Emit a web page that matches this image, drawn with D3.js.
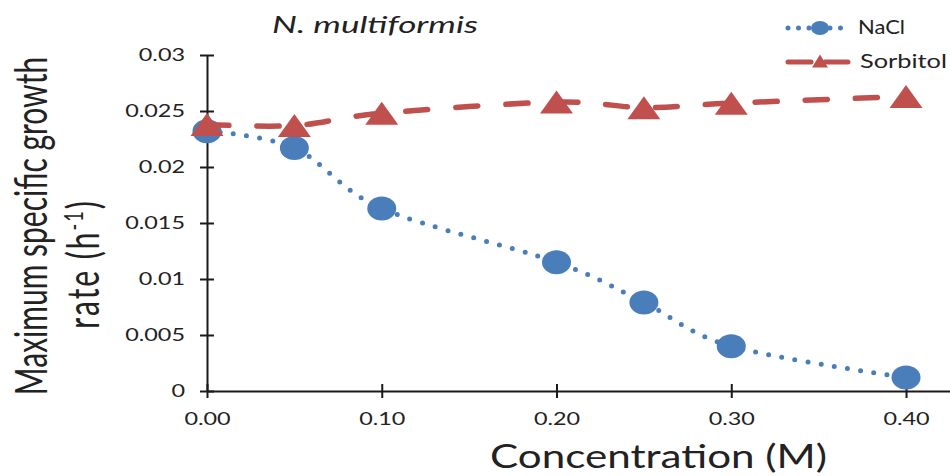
<!DOCTYPE html>
<html>
<head>
<meta charset="utf-8">
<script src="https://cdn.jsdelivr.net/npm/d3@7"></script>
<style>
  html, body { margin: 0; padding: 0; background: #fff; }
  svg { display: block; font-family: Lato, "Open Sans", sans-serif; }
</style>
</head>
<body>
<svg id="chart" width="950" height="476"></svg>
<script>
// ---- data ----
const concentrations = [0.00, 0.05, 0.10, 0.20, 0.25, 0.30, 0.40];
const naclRate       = [0.0232, 0.0217, 0.0163, 0.0115, 0.0079, 0.0040, 0.0012];
const sorbitolRate   = [0.0238, 0.0237, 0.0248, 0.0258, 0.0253, 0.0257, 0.0263];
const seriesNames    = ["NaCl", "Sorbitol"];
const xTicks         = [0.00, 0.10, 0.20, 0.30, 0.40];
const xTickLabels    = ["0.00", "0.10", "0.20", "0.30", "0.40"];
const yTicks         = [0, 0.005, 0.01, 0.015, 0.02, 0.025, 0.03];
const yTickLabels    = ["0", "0.005", "0.01", "0.015", "0.02", "0.025", "0.03"];
const chartTitle     = "N. multiformis";
const xTitle         = "Concentration (M)";
const yTitleLine1    = "Maximum specific growth";

// ---- layout ----
const svg = d3.select("#chart");
const blue = "#4a7ebb", red = "#c0504d", axisColor = "#1a1a1a", textColor = "#222";
const sx = 1.3;   // horizontal stretch of the original picture
const syT = 1.45; // glyph-height stretch of the rotated y title

const x = d3.scaleLinear().domain([0, 0.45]).range([207, 993.4]);
const y = d3.scaleLinear().domain([0, 0.03]).range([391, 55]);

// x axis
const gx = svg.append("g").attr("transform", `translate(0,${y(0)})`)
  .call(d3.axisBottom(x).tickValues(xTicks).tickFormat((d, i) => xTickLabels[i]).tickSizeOuter(0).tickSizeInner(7));
gx.select(".domain").attr("stroke", axisColor).attr("stroke-width", 2);
gx.selectAll(".tick line").attr("y1", -7).attr("y2", 7).attr("stroke", axisColor).attr("stroke-width", 2);
gx.selectAll(".tick text").attr("y", 21).attr("transform", `scale(${sx},1)`)
  .attr("fill", textColor).style("font-size", "18px").style("font-family", "Lato, sans-serif");

// y axis
const gy = svg.append("g").attr("transform", `translate(${x(0)},0)`)
  .call(d3.axisLeft(y).tickValues(yTicks).tickFormat((d, i) => yTickLabels[i]).tickSizeOuter(0).tickSizeInner(7));
gy.select(".domain").attr("stroke", axisColor).attr("stroke-width", 2);
gy.selectAll(".tick line").attr("x1", -7).attr("x2", 7).attr("stroke", axisColor).attr("stroke-width", 2);
gy.selectAll(".tick text").attr("x", -22 / sx).attr("transform", `scale(${sx},1)`)
  .attr("fill", textColor).style("font-size", "18px").style("font-family", "Lato, sans-serif");

// series
const curve = d3.curveCatmullRom.alpha(0);
const naclPts = concentrations.map((c, i) => [c, naclRate[i]]);
const sorbPts = concentrations.map((c, i) => [c, sorbitolRate[i]]);
const line = d3.line().x(d => x(d[0])).y(d => y(d[1])).curve(curve);

const triPath = (w, h) => `M0,${-h/2}L${w/2},${h/2}L${-w/2},${h/2}Z`;

svg.append("path").attr("d", line(naclPts)).attr("fill", "none")
  .attr("stroke", blue).attr("stroke-width", 5).attr("stroke-linecap", "round")
  .attr("stroke-dasharray", "0 13.3");
svg.append("g").selectAll("ellipse").data(naclPts).join("ellipse")
  .attr("cx", d => x(d[0])).attr("cy", d => y(d[1])).attr("rx", 14.5).attr("ry", 12).attr("fill", blue);

svg.append("path").attr("d", line(sorbPts)).attr("fill", "none")
  .attr("stroke", red).attr("stroke-width", 5.5).attr("stroke-linecap", "round")
  .attr("stroke-dasharray", "22 28");
svg.append("g").selectAll("path").data(sorbPts).join("path")
  .attr("transform", d => `translate(${x(d[0])},${y(d[1])})`)
  .attr("d", triPath(33, 23)).attr("fill", red);

// legend
const lg = svg.append("g");
lg.append("line").attr("x1", 788).attr("x2", 850).attr("y1", 28).attr("y2", 28)
  .attr("stroke", blue).attr("stroke-width", 5).attr("stroke-linecap", "round").attr("stroke-dasharray", "0 10.5");
lg.append("ellipse").attr("cx", 820).attr("cy", 28).attr("rx", 9).attr("ry", 7).attr("fill", blue);
lg.append("text").attr("x", 858).attr("y", 34).text(seriesNames[0])
  .attr("textLength", 47).attr("lengthAdjust", "spacingAndGlyphs")
  .attr("fill", textColor).style("font-size", "19px");
lg.append("line").attr("x1", 788).attr("x2", 853).attr("y1", 62).attr("y2", 62)
  .attr("stroke", red).attr("stroke-width", 5).attr("stroke-linecap", "round").attr("stroke-dasharray", "23 14");
lg.append("path").attr("transform", "translate(820,61)").attr("d", triPath(16, 13)).attr("fill", red);
lg.append("text").attr("x", 860).attr("y", 68).text(seriesNames[1])
  .attr("textLength", 87).attr("lengthAdjust", "spacingAndGlyphs")
  .attr("fill", textColor).style("font-size", "19px");

// title
svg.append("text").attr("x", 272).attr("y", 33).text(chartTitle)
  .attr("textLength", 206).attr("lengthAdjust", "spacingAndGlyphs")
  .attr("fill", textColor).style("font-size", "23px").style("font-style", "italic");

// x title
svg.append("text").attr("x", 490).attr("y", 468).text(xTitle)
  .attr("textLength", 337).attr("lengthAdjust", "spacingAndGlyphs")
  .attr("fill", textColor).style("font-size", "32px");

// y title (two lines, rotated; glyph height stretched horizontally)
const yt = svg.append("text").attr("transform", `translate(0,226) rotate(-90) scale(1,${syT})`)
  .attr("text-anchor", "middle").attr("fill", textColor).style("font-size", "30px");
yt.append("tspan").attr("x", 0).attr("y", 47 / syT).text(yTitleLine1);
const l2 = yt.append("tspan").attr("x", -38).attr("y", 99 / syT).style("letter-spacing", "2px");
l2.append("tspan").text("rate (h");
l2.append("tspan").attr("dy", -11).style("font-size", "18px").text("-1");
l2.append("tspan").attr("dy", 11).text(")");
</script>
</body>
</html>
